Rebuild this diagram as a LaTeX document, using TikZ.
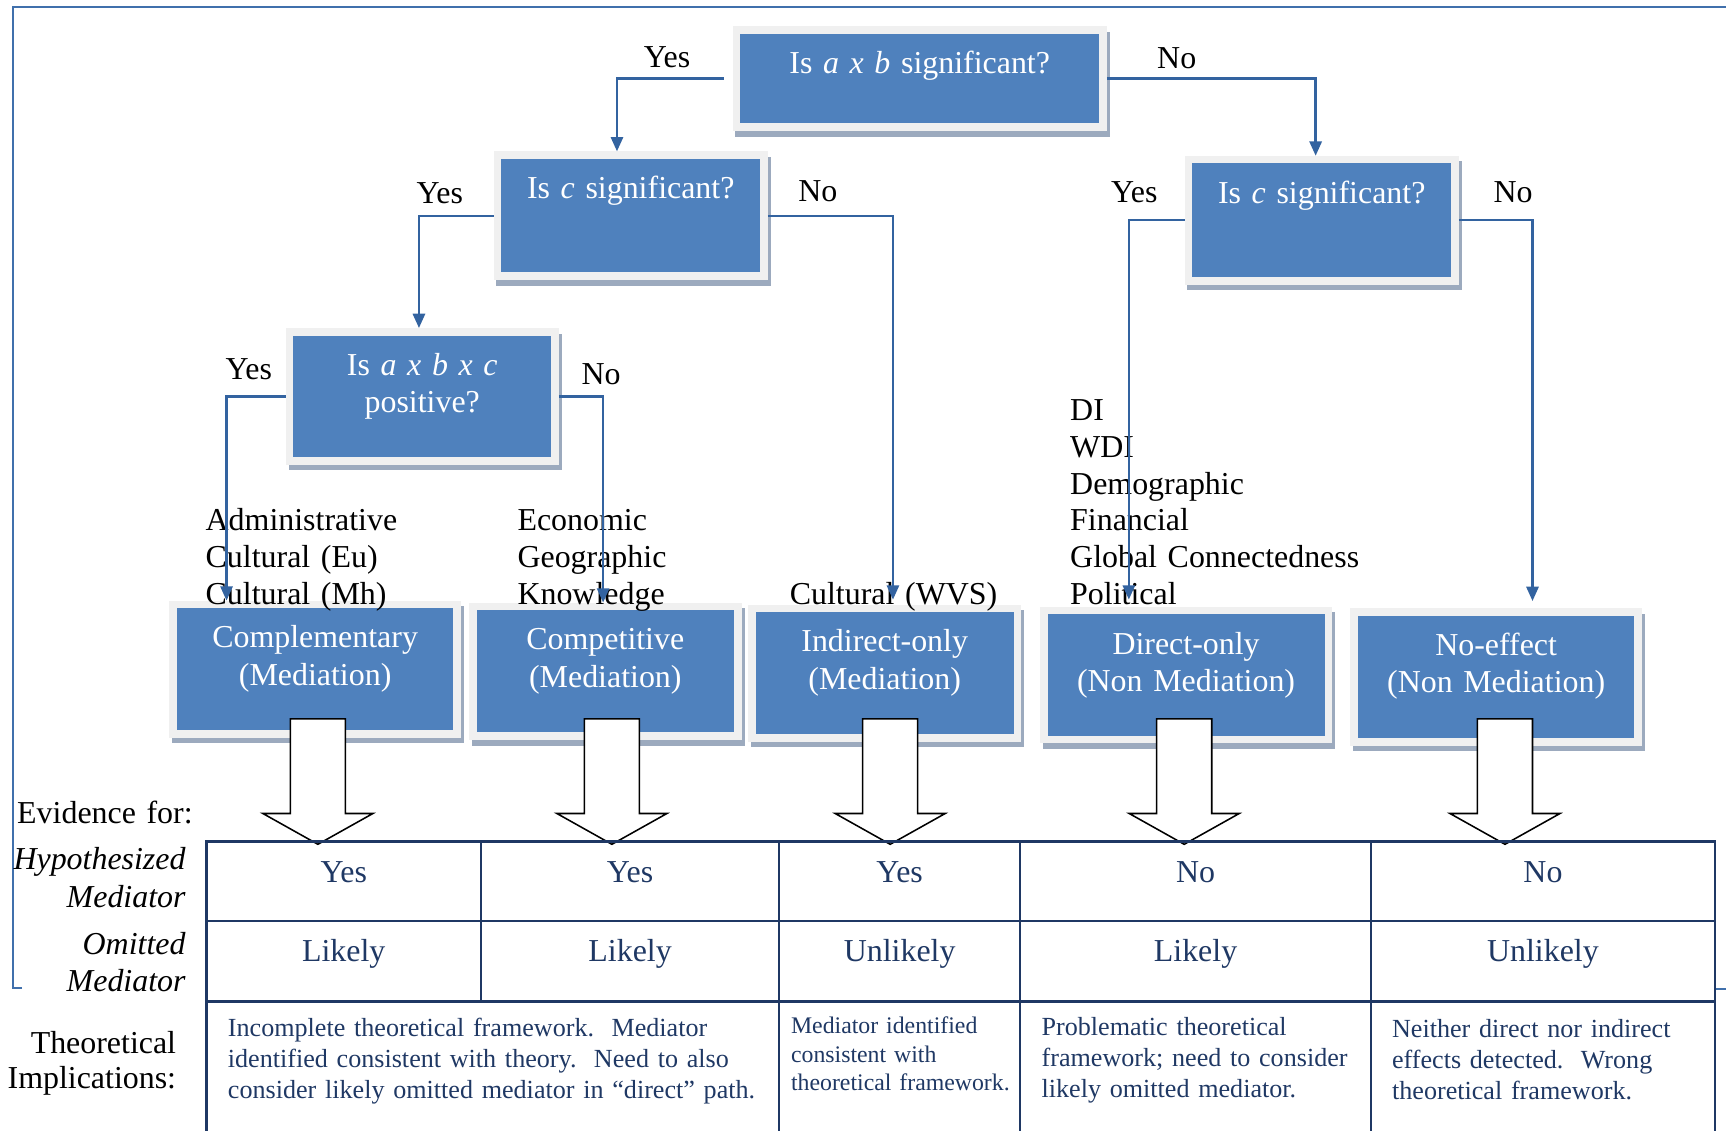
\documentclass[tikz,border=0pt]{standalone}
\usepackage{fontspec}
\setmainfont{Liberation Serif}
\usepackage{xcolor}
\usepackage{tikz}
\usetikzlibrary{arrows.meta,shadows}
\definecolor{boxblue}{HTML}{4F81BD}
\definecolor{framegray}{HTML}{F0F0F0}
\definecolor{shadowgray}{HTML}{9CAABE}
\definecolor{connblue}{HTML}{3363A0}
\definecolor{outerblue}{HTML}{4070AC}
\definecolor{tablenavy}{HTML}{1F3864}

\begin{document}
\begin{tikzpicture}[
    x=0.2mm, y=-0.2mm,
    qbox/.style={
        draw=framegray, fill=boxblue, line width=1.4mm, inner sep=0pt,
        drop shadow={shadow xshift=0.5mm, shadow yshift=-1mm, opacity=1,
                     fill=shadowgray, draw=shadowgray, line width=1.4mm}
    },
    boxtext/.style={
        anchor=base, text width=50mm, align=center, inner sep=0pt,
        text=white, font=\fontsize{16.5}{19.35}\selectfont
    },
    listtext/.style={
        anchor=base west, text width=60mm, align=left, inner sep=0pt,
        font=\fontsize{16.5}{19}\selectfont
    },
    yesno/.style={anchor=base, inner sep=0pt, font=\fontsize{16.5}{19}\selectfont},
    sidelbl/.style={
        anchor=base east, text width=40mm, align=right, inner sep=0pt,
        font=\fontsize{16.5}{19.35}\selectfont
    },
    celltext/.style={anchor=base, inner sep=0pt, text=tablenavy,
        font=\fontsize{16.5}{19}\selectfont},
    implic/.style={
        anchor=base west, text width=100mm, align=left, inner sep=0pt,
        text=tablenavy, font=\fontsize{13.5}{16}\selectfont
    },
    conn/.style={-{Triangle[length=2.6mm,width=2.2mm]}, draw=connblue, line width=1.3pt},
    bigarr/.style={draw=black, fill=white, line width=0.8pt, line join=miter},
    tbl/.style={draw=tablenavy, line width=1.3pt},
    framebl/.style={draw=outerblue, line width=1pt}
]
    \useasboundingbox (0,0) rectangle (1568,1027);
    \draw[framebl] (20.2,897.9) -- (12.1,897.9) -- (12.1,6.7) -- (1568,6.7);
    \draw[framebl] (1559,898.7) -- (1568,898.7);

    % decision boxes
    \node[qbox, minimum width=66.6mm, minimum height=17.6mm] (aBox) at (835.5,71.5) {};
    \node[qbox, minimum width=48.4mm, minimum height=22mm] (bBox) at (573,196) {};
    \node[qbox, minimum width=48.4mm, minimum height=22mm] (cBox) at (1200.7,200) {};
    \node[qbox, minimum width=48.2mm, minimum height=23.4mm] (dBox) at (383.6,360) {};
    \node[boxtext] (aTxt) at ([yshift=-8.6mm]aBox.north) {Is \textit{a x b} significant?};
    \node[boxtext] (bTxt) at ([yshift=-8.6mm]bBox.north) {Is \textit{c} significant?};
    \node[boxtext] (cTxt) at ([yshift=-8.6mm]cBox.north) {Is \textit{c} significant?};
    \node[boxtext] (dTxt) at ([yshift=-8.6mm]dBox.north) {Is \textit{a x b x c}\\positive?};

    % outcome boxes
    \node[qbox, minimum width=51.6mm, minimum height=23.5mm] (eBox) at (286.3,607.9) {};
    \node[qbox, minimum width=48.2mm, minimum height=23.6mm] (fBox) at (549.9,609.9) {};
    \node[qbox, minimum width=48.3mm, minimum height=23.5mm] (gBox) at (803.7,611.5) {};
    \node[qbox, minimum width=51.7mm, minimum height=23.4mm] (hBox) at (1077.5,613.2) {};
    \node[qbox, minimum width=51.6mm, minimum height=23.6mm] (iBox) at (1359.2,615) {};
    \node[boxtext] (eTxt) at ([yshift=-8.6mm]eBox.north) {Complementary\\(Mediation)};
    \node[boxtext] (fTxt) at ([yshift=-8.6mm]fBox.north) {Competitive\\(Mediation)};
    \node[boxtext] (gTxt) at ([yshift=-8.6mm]gBox.north) {Indirect-only\\(Mediation)};
    \node[boxtext] (hTxt) at ([yshift=-8.6mm]hBox.north) {Direct-only\\(Non Mediation)};
    \node[boxtext] (iTxt) at ([yshift=-8.6mm]iBox.north) {No-effect\\(Non Mediation)};

    % indicator lists
    \node[listtext] (adminList) at (186.5,482) {Administrative\\Cultural (Eu)\\Cultural (Mh)};
    \node[listtext] (econList) at (469.8,482) {Economic\\Geographic\\Knowledge};
    \node[listtext] (wvsList) at (717.2,549) {Cultural (WVS)};
    \node[listtext] (diList) at (971.9,382)
        {DI\\WDI\\Demographic\\Financial\\Global Connectedness\\Political};

    \node[yesno] (yesA) at (606,61.5) {Yes};
    \node[yesno] (noA) at (1069,62) {No};
    \node[yesno] (yesB) at (399.5,185.3) {Yes};
    \node[yesno] (noB) at (743,183.2) {No};
    \node[yesno] (yesC) at (1030.5,184.1) {Yes};
    \node[yesno] (noC) at (1374.5,184) {No};
    \node[yesno] (yesD) at (226,344.6) {Yes};
    \node[yesno] (noD) at (546,349.7) {No};

    \draw[conn] ([xshift=-1.6mm]aBox.west) -| ([xshift=-2.5mm]bBox.north);
    \draw[conn] (aBox.east) -| ([xshift=-1.1mm]cBox.north);
    \draw[conn] (bBox.west) -| ([xshift=-0.6mm]dBox.north);
    \draw[conn, shorten >=0.9mm] (bBox.east) -| ([xshift=1.5mm]gBox.north);
    \draw[conn, shorten >=1.3mm] (cBox.west) -| ([xshift=-10.4mm]hBox.north);
    \draw[conn, shorten >=1.3mm] (cBox.east) -| ([xshift=6.6mm]iBox.north);
    \draw[conn] (dBox.west) -| ([xshift=-16.1mm]eBox.north);
    \draw[conn] (dBox.east) -| ([xshift=-0.4mm]fBox.north);

    % block arrows down to the table
    \coordinate (shaftTop) at (0,653);
    \draw[bigarr] (eBox.south |- shaftTop) ++(-22.5,0) -- ++(50,0) -- ++(0,86) -- ++(25,0) -- ++(-50,28) -- ++(-50,-28) -- ++(25,0) -- cycle;
    \draw[bigarr] (fBox.south |- shaftTop) ++(-19,0) -- ++(50,0) -- ++(0,86) -- ++(25,0) -- ++(-50,28) -- ++(-50,-28) -- ++(25,0) -- cycle;
    \draw[bigarr] (gBox.south |- shaftTop) ++(-20,0) -- ++(50,0) -- ++(0,86) -- ++(25,0) -- ++(-50,28) -- ++(-50,-28) -- ++(25,0) -- cycle;
    \draw[bigarr] (hBox.south |- shaftTop) ++(-26.7,0) -- ++(50,0) -- ++(0,86) -- ++(25,0) -- ++(-50,28) -- ++(-50,-28) -- ++(25,0) -- cycle;
    \draw[bigarr] (iBox.south |- shaftTop) ++(-17,0) -- ++(50,0) -- ++(0,86) -- ++(25,0) -- ++(-50,28) -- ++(-50,-28) -- ++(25,0) -- cycle;

    % evidence table
    \draw[tbl] (187.5,1027) -- (187.5,764.6) -- (1557.9,764.6) -- (1557.9,1027);
    \draw[tbl] (187.5,836.7) -- (1557.9,836.7);
    \draw[tbl] (187.5,910) -- (1557.9,910);
    \draw[tbl] (437,764.6) -- (437,910);
    \draw[tbl] (707.7,764.6) -- (707.7,1027);
    \draw[tbl] (926.8,764.6) -- (926.8,1027);
    \draw[tbl] (1245.4,764.6) -- (1245.4,1027);

    \node[sidelbl] (evid) at (175.4,748) {Evidence for:};
    \node[sidelbl, font=\fontsize{16.5}{19.35}\selectfont\itshape] (hypo) at (168.9,790.3) {Hypothesized\\Mediator};
    \node[sidelbl, font=\fontsize{16.5}{19.35}\selectfont\itshape] (omit) at (168.9,866.9) {Omitted\\Mediator};
    \node[sidelbl, font=\fontsize{16.5}{18.1}\selectfont] (theo) at (160.3,956.9) {Theoretical\\Implications:};

    \node[celltext] (hyp1) at (312.3,801.9) {Yes};
    \node[celltext] (hyp2) at (572.4,801.9) {Yes};
    \node[celltext] (hyp3) at (817.3,801.9) {Yes};
    \node[celltext] (hyp4) at (1086.1,801.9) {No};
    \node[celltext] (hyp5) at (1401.7,801.9) {No};
    \node[celltext] (omi1) at (312.3,873.6) {Likely};
    \node[celltext] (omi2) at (572.4,873.6) {Likely};
    \node[celltext] (omi3) at (817.3,873.6) {Unlikely};
    \node[celltext] (omi4) at (1086.1,873.6) {Likely};
    \node[celltext] (omi5) at (1401.7,873.6) {Unlikely};

    \node[implic] (imp1) at (206.7,941.7)
        {Incomplete theoretical framework.\ \ Mediator\\identified consistent with theory.\ \ Need to also\\consider likely omitted mediator in ``direct'' path.};
    \node[implic, font=\fontsize{12.3}{14.6}\selectfont] (imp3) at (718.3,939.3)
        {Mediator identified\\consistent with\\theoretical framework.};
    \node[implic] (imp4) at (945.9,941)
        {Problematic theoretical\\framework; need to consider\\likely omitted mediator.};
    \node[implic] (imp5) at (1264.3,942.3)
        {Neither direct nor indirect\\effects detected.\ \ Wrong\\theoretical framework.};
\end{tikzpicture}
\end{document}
